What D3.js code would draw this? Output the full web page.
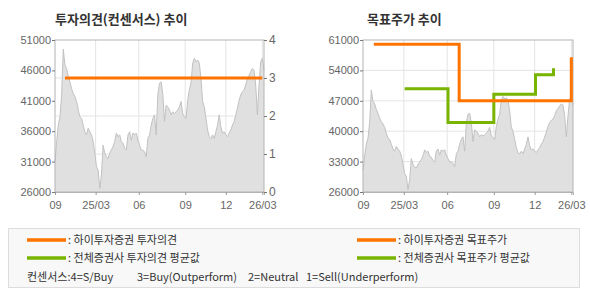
<!DOCTYPE html>
<html>
<head>
<meta charset="utf-8">
<script src="https://cdn.jsdelivr.net/npm/d3@7"></script>
<style>
  body { margin: 0; background: #fff; }
  svg { display: block; }
  .tick text { font-family: "Liberation Sans", Arial, sans-serif; font-size: 11px; fill: #666; }
  .ko { font-family: "Noto Sans CJK KR", sans-serif; }
</style>
</head>
<body>
<svg id="chart" width="590" height="300"></svg>
<script>
// daily close, evenly spaced
const prices = [
  31000, 34300, 37000, 38400, 42000, 49500, 46900, 46300, 45000, 44100, 43000, 42200,
  41700, 40900, 39500, 38400, 38100, 37000, 35900, 35400, 36500, 35900, 35400, 34300,
  32400, 30200, 29600, 26600, 28800, 33700, 32400, 31800, 31500, 32400, 32900, 33500,
  34300, 35700, 35100, 35400, 34300, 34000,
  33200, 32900, 35400, 35900, 34500, 35700, 35400, 35700, 34500, 33700, 32900, 32900,
  32600, 31800, 34800, 35400, 37000, 38100, 38700, 35400, 42000, 43900, 44100, 42000,
  37600, 40300, 40000, 39500, 38700, 39200, 38900, 39200, 39500, 40000, 40900, 38900,
  38400, 38100, 41100, 42800, 43900, 47200,
  48000, 47400, 47700, 47200, 44700, 40900, 40000, 38100, 36200, 35100, 34800, 35400,
  34800, 35900, 37000, 38700, 36700, 35700, 35900, 35400, 35100, 35700, 36200, 37000,
  37600, 38700, 39800, 41100, 42000, 42500, 42800, 43600, 44700, 45200, 45800, 46300,
  46000, 43600, 38700, 43600, 47400, 48000, 46000
];
const tickIdx = [0, 24.5, 50.5, 78.5, 103, 125];
const tickLabels = ['09', '25/03', '06', '09', '12', '26/03'];

// 하이투자증권 투자의견
const opinionIdx = [6, 125];
const opinionVals = [3, 3];

// 하이투자증권 목표주가
const targetIdx = [6.5, 57.7, 125];
const targetVals = [60000, 47000, 57000];

// 전체증권사 목표주가 평균값
const avgTargetIdx = [25, 51, 78.5, 103.5, 114.3];
const avgTargetVals = [49800, 42000, 48500, 53000, 54500];

const leftTicks = [26000, 31000, 36000, 41000, 46000, 51000];
const opinionTicks = [0, 1, 2, 3, 4];
const rightTicks = [26000, 33000, 40000, 47000, 54000, 61000];

const ORANGE = '#ff7300';
const GREEN = '#78b400';
const TOP = 40, BOTTOM = 192;

const svg = d3.select('#chart');
svg.append('rect').attr('width', 590).attr('height', 300).attr('fill', '#fff');

function drawPanel(x0, x1, yDomain, title, titleX) {
  const g = svg.append('g');
  const x = d3.scaleLinear().domain([0, prices.length - 1]).range([x0, x1]);
  const y = d3.scaleLinear().domain(yDomain).range([BOTTOM, TOP]);

  g.append('text').attr('class', 'ko')
    .attr('x', titleX).attr('y', 24)
    .attr('font-size', '13px').attr('font-weight', 'bold').attr('fill', '#333')
    .text(title);

  // vertical grid
  g.selectAll('.vg').data(tickIdx.slice(1)).enter().append('line')
    .attr('x1', d => x(d)).attr('x2', d => x(d))
    .attr('y1', TOP).attr('y2', BOTTOM)
    .attr('stroke', '#e4e4e4');

  return { g, x, y };
}

function drawPrice(p) {
  const area = d3.area()
    .x((d, i) => p.x(i)).y0(BOTTOM).y1(d => p.y(d));
  p.g.append('path').datum(prices).attr('d', area).attr('fill', '#e0e0e0');
  const line = d3.line().x((d, i) => p.x(i)).y(d => p.y(d));
  p.g.append('path').datum(prices).attr('d', line)
    .attr('fill', 'none').attr('stroke', '#c2c2c2').attr('stroke-width', 1);
}

function drawFrame(p, x0, x1) {
  p.g.append('rect').attr('x', x0).attr('y', TOP)
    .attr('width', x1 - x0).attr('height', BOTTOM - TOP)
    .attr('fill', 'none').attr('stroke', '#b4b4b4');
  const xAxis = d3.axisBottom(p.x).tickValues(tickIdx)
    .tickFormat((d, i) => tickLabels[i]).tickSize(3).tickPadding(6);
  const ax = p.g.append('g').attr('transform', `translate(0,${BOTTOM})`).call(xAxis);
  ax.select('.domain').attr('stroke', '#b4b4b4');
  ax.selectAll('.tick line').attr('stroke', '#999');
}

function stepLine(p, y, idx, vals, color) {
  const pts = idx.map((d, i) => [d, vals[i]]);
  const line = d3.line().curve(d3.curveStepAfter)
    .x(d => p.x(d[0])).y(d => y(d[1]));
  p.g.append('path').datum(pts).attr('d', line)
    .attr('fill', 'none').attr('stroke', color).attr('stroke-width', 3);
}

// ---------- left: 투자의견 ----------
const L = drawPanel(55, 264, [26000, 51000], '투자의견(컨센서스) 추이', 55);
const yOp = d3.scaleLinear().domain([0, 4]).range([BOTTOM, TOP]);
L.g.selectAll('.hg').data([1, 2, 3]).enter().append('line')
  .attr('x1', 55).attr('x2', 264).attr('y1', d => yOp(d)).attr('y2', d => yOp(d))
  .attr('stroke', '#e4e4e4');
drawPrice(L);
drawFrame(L, 55, 264);
const la = L.g.append('g').attr('transform', 'translate(55,0)')
  .call(d3.axisLeft(L.y).tickValues(leftTicks).tickFormat(d3.format('d')).tickSize(3).tickPadding(1));
la.select('.domain').remove();
la.selectAll('.tick line').attr('stroke', '#777');
const ra = L.g.append('g').attr('transform', 'translate(264,0)')
  .call(d3.axisRight(yOp).tickValues(opinionTicks).tickFormat(d3.format('d')).tickSize(3).tickPadding(2));
ra.select('.domain').remove();
ra.selectAll('.tick line').attr('stroke', '#777');
ra.selectAll('.tick text').style('font-size', '12px').attr('dy', '0.25em');
stepLine(L, yOp, opinionIdx, opinionVals, ORANGE);

// ---------- right: 목표주가 ----------
const R = drawPanel(363, 573, [26000, 61000], '목표주가 추이', 367);
R.g.selectAll('.hg').data(rightTicks.slice(1, -1)).enter().append('line')
  .attr('x1', 363).attr('x2', 573).attr('y1', d => R.y(d)).attr('y2', d => R.y(d))
  .attr('stroke', '#e4e4e4');
drawPrice(R);
drawFrame(R, 363, 573);
const rl = R.g.append('g').attr('transform', 'translate(363,0)')
  .call(d3.axisLeft(R.y).tickValues(rightTicks).tickFormat(d3.format('d')).tickSize(3).tickPadding(1));
rl.select('.domain').remove();
rl.selectAll('.tick line').attr('stroke', '#777');
stepLine(R, R.y, avgTargetIdx, avgTargetVals, GREEN);
stepLine(R, R.y, targetIdx, targetVals, ORANGE);

// ---------- legend ----------
const lg = svg.append('g');
lg.append('rect').attr('x', 8.5).attr('y', 228.5).attr('width', 571).attr('height', 59)
  .attr('fill', '#f8f8f8').attr('stroke', '#ddd');
const legendItems = [
  { x: 27, y: 240, color: ORANGE, label: ': 하이투자증권 투자의견' },
  { x: 27, y: 258, color: GREEN, label: ': 전체증권사 투자의견 평균값' },
  { x: 357, y: 240, color: ORANGE, label: ': 하이투자증권 목표주가' },
  { x: 357, y: 258, color: GREEN, label: ': 전체증권사 목표주가 평균값' }
];
legendItems.forEach(d => {
  lg.append('line').attr('x1', d.x).attr('x2', d.x + 39).attr('y1', d.y).attr('y2', d.y)
    .attr('stroke', d.color).attr('stroke-width', 3.5);
  lg.append('text').attr('class', 'ko').attr('x', d.x + 41).attr('y', d.y + 4)
    .attr('font-size', '11px').attr('fill', '#333').text(d.label);
});
const consensus = [
  { x: 27, t: '컨센서스:4=S/Buy' },
  { x: 137, t: '3=Buy(Outperform)' },
  { x: 248, t: '2=Neutral' },
  { x: 306, t: '1=Sell(Underperform)' }
];
consensus.forEach(d => {
  lg.append('text').attr('class', 'ko').attr('x', d.x).attr('y', 281)
    .attr('font-size', '11px').attr('fill', '#333').text(d.t);
});
</script>
</body>
</html>
